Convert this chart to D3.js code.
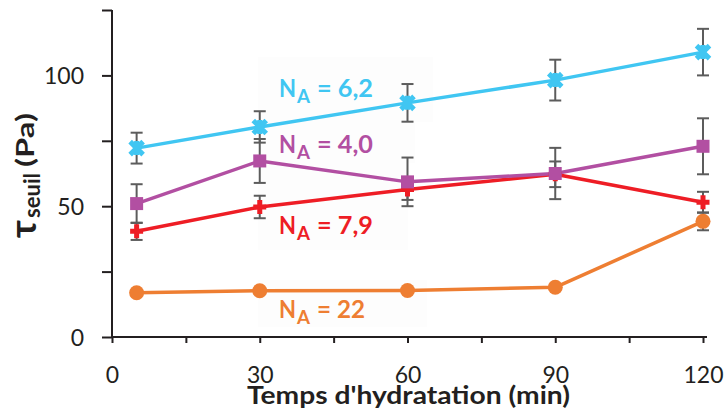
<!DOCTYPE html>
<html><head><meta charset="utf-8">
<script src="https://cdn.jsdelivr.net/npm/d3@7"></script>
<style>
html,body{margin:0;padding:0;background:#fff;}
svg{display:block;}
</style></head>
<body>
<svg id="chart" width="727" height="412"></svg>
<script>
// ---- data ----
const times = [5, 30, 60, 90, 120];
const na62 = [72.2, 80.3, 89.5, 98.2, 108.9];
const err62 = [5.9, 6.0, 7.2, 7.8, 8.9];
const na40 = [51.0, 67.3, 59.3, 62.5, 72.9];
const err40 = [7.4, 8.4, 9.3, 9.8, 10.7];
const na79 = [40.4, 49.7, 56.4, 62.2, 51.5];
const err79 = [3.3, 4.3, 4.0, 4.9, 4.0];
const na22 = [16.9, 17.7, 17.8, 19.0, 44.2];
const err22 = [0.8, 0.8, 0.8, 0.8, 3.4];
const xTicks = [0, 15, 30, 45, 60, 75, 90, 105, 120];
const xLabels = [0, 30, 60, 90, 120];
const yTicks = [0, 25, 50, 75, 100, 125];
const yLabels = [0, 50, 100];
const labelValues = ["22", "7,9", "4,0", "6,2"];

const series = [
  {vals: na22, err: err22, color: "#ee7e32", marker: "circle", label: labelValues[0], ly: 318},
  {vals: na79, err: err79, color: "#ee1d25", marker: "plus",   label: labelValues[1], ly: 234},
  {vals: na40, err: err40, color: "#b24fa2", marker: "square", label: labelValues[2], ly: 153},
  {vals: na62, err: err62, color: "#40c6f2", marker: "star",   label: labelValues[3], ly: 97}
];

const svg = d3.select("#chart");
const x = d3.scaleLinear().domain([0, 120]).range([112, 703]);
const y = d3.scaleLinear().domain([0, 125]).range([337, 10]);
const axisColor = "#231f20";
const fontTick = "Lato, 'Open Sans', sans-serif";
const fontBold = "Lato, 'Open Sans', sans-serif";

// very faint label backgrounds
const patches = [[258, 57, 175, 65], [258, 122, 157, 41], [258, 163, 150, 87], [258, 280, 169, 47]];
svg.selectAll("rect.patch").data(patches).enter().append("rect")
  .attr("x", d => d[0]).attr("y", d => d[1]).attr("width", d => d[2]).attr("height", d => d[3])
  .attr("fill", "#fdfdfd");

// axes
const yAxis = d3.axisLeft(y).tickValues(yTicks).tickSize(10).tickPadding(18)
  .tickFormat(d => yLabels.includes(d) ? d : "");
const gy = svg.append("g").attr("transform", `translate(${x(0)},0)`).call(yAxis);
const xAxis = d3.axisBottom(x).tickValues(xTicks).tickSize(6).tickPadding(24)
  .tickFormat(d => xLabels.includes(d) ? d : "");
const gx = svg.append("g").attr("transform", `translate(0,${y(0)})`).call(xAxis);
[gx, gy].forEach(g => {
  g.select(".domain").remove();
  g.selectAll(".tick line").attr("stroke", axisColor).attr("stroke-width", 2);
  g.selectAll(".tick text").attr("fill", axisColor).style("font-family", fontTick)
    .style("font-size", "23px");
});
gy.selectAll(".tick text").attr("dy", "0.36em");
svg.append("line").attr("x1", x(0)).attr("x2", x(0)).attr("y1", y(125)).attr("y2", y(0) + 1)
  .attr("stroke", axisColor).attr("stroke-width", 2);
svg.append("line").attr("x1", x(0) - 1).attr("x2", x(120) + 4).attr("y1", y(0)).attr("y2", y(0))
  .attr("stroke", axisColor).attr("stroke-width", 2);

// error bars
const errG = svg.append("g");
series.forEach(s => {
  s.vals.forEach((v, i) => {
    const cx = x(times[i]);
    const y1 = y(v + s.err[i]), y2 = y(v - s.err[i]);
    errG.append("line").attr("x1", cx).attr("x2", cx).attr("y1", y1).attr("y2", y2)
      .attr("stroke", "#5c5c5c").attr("stroke-width", 2);
    [y1, y2].forEach(yy => errG.append("line").attr("x1", cx - 6).attr("x2", cx + 6)
      .attr("y1", yy).attr("y2", yy).attr("stroke", "#5c5c5c").attr("stroke-width", 2));
  });
});

// lines and markers
const line = d3.line().x((d, i) => x(times[i])).y(d => y(d));
series.forEach(s => {
  svg.append("path").attr("d", line(s.vals)).attr("fill", "none")
    .attr("stroke", s.color).attr("stroke-width", 3.5).attr("stroke-linejoin", "round");
});
series.forEach(s => {
  const g = svg.append("g");
  s.vals.forEach((v, i) => {
    const cx = x(times[i]), cy = y(v);
    if (s.marker === "circle") {
      g.append("circle").attr("cx", cx).attr("cy", cy).attr("r", 7.5).attr("fill", s.color);
    } else if (s.marker === "square") {
      g.append("rect").attr("x", cx - 6.5).attr("y", cy - 6.5).attr("width", 13).attr("height", 13).attr("fill", s.color);
    } else if (s.marker === "plus") {
      g.append("path").attr("d", `M${cx - 6.5},${cy}H${cx + 6.5}M${cx},${cy - 7}V${cy + 7}`)
        .attr("stroke", s.color).attr("stroke-width", 5);
    } else {
      g.append("path").attr("d", `M${cx - 6.5},${cy - 6.5}L${cx + 6.5},${cy + 6.5}M${cx + 6.5},${cy - 6.5}L${cx - 6.5},${cy + 6.5}M${cx},${cy - 7}V${cy + 7}`)
        .attr("stroke", s.color).attr("stroke-width", 5);
    }
  });
});

// series labels
series.forEach(s => {
  const g = svg.append("g").attr("fill", s.color)
    .style("font-family", fontBold).style("font-weight", "bold");
  g.append("text").attr("x", 279).attr("y", s.ly).style("font-size", "25px")
    .attr("textLength", 17).attr("lengthAdjust", "spacingAndGlyphs").text("N");
  g.append("text").attr("x", 297).attr("y", s.ly + 6).style("font-size", "18px")
    .attr("textLength", 13).attr("lengthAdjust", "spacingAndGlyphs").text("A");
  const rest = "= " + s.label;
  g.append("text").attr("x", 317).attr("y", s.ly).style("font-size", "25px")
    .attr("textLength", s.label.length === 2 ? 48 : 56).attr("lengthAdjust", "spacingAndGlyphs").text(rest);
});

// axis titles
svg.append("text").attr("x", 247).attr("y", 404).attr("fill", axisColor)
  .attr("textLength", 323).attr("lengthAdjust", "spacingAndGlyphs")
  .style("font-family", fontBold).style("font-weight", "bold").style("font-size", "25px")
  .text("Temps d'hydratation (min)");

const yg = svg.append("g").attr("fill", axisColor).style("font-family", fontBold).style("font-weight", "bold");
yg.append("text").attr("transform", "translate(36,238) rotate(-90)").style("font-size", "36px")
  .attr("textLength", 18).attr("lengthAdjust", "spacingAndGlyphs").text("τ");
yg.append("text").attr("transform", "translate(40,218) rotate(-90)").style("font-size", "22px")
  .attr("textLength", 45).attr("lengthAdjust", "spacingAndGlyphs").text("seuil");
yg.append("text").attr("transform", "translate(34,167) rotate(-90)").style("font-size", "25px")
  .attr("textLength", 54).attr("lengthAdjust", "spacingAndGlyphs").text("(Pa)");
</script>
</body></html>
